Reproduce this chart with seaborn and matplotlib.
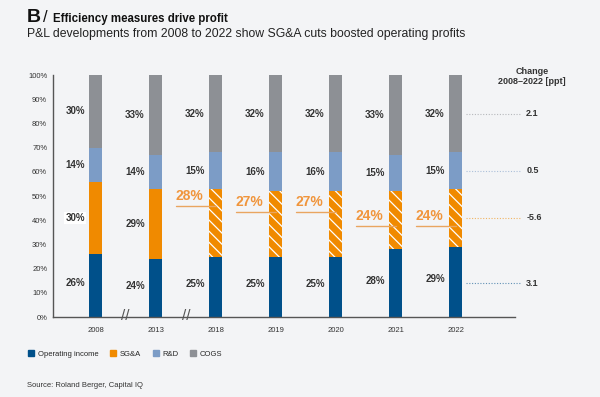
import numpy as np
import pandas as pd
import matplotlib
matplotlib.use("Agg")
import matplotlib.pyplot as plt
import seaborn as sns
from matplotlib.patches import Patch

# data
years = ["2008", "2013", "2018", "2019", "2020", "2021", "2022"]
op_income = [26, 24, 25, 25, 25, 28, 29]
sga = [30, 29, 28, 27, 27, 24, 24]
rnd = [14, 14, 15, 16, 16, 15, 15]
cogs = [30, 33, 32, 32, 32, 33, 32]
sga_line_y = [None, None, 46, 43.5, 43.5, 37.5, 37.5]
change_labels = ["2.1", "0.5", "-5.6", "3.1"]
change_y = [84, 60.5, 41, 14]

col_oi = "#00508A"
col_sga = "#F08A00"
col_rnd = "#7C9CC6"
col_cogs = "#8D9095"
col_lbl = "#F0953C"
bg = "#F3F4F6"

sns.set_style("white")
plt.rcParams["font.family"] = ["Liberation Sans", "DejaVu Sans"]
plt.rcParams["hatch.linewidth"] = 0.9

df = pd.DataFrame({"year": years, "oi": op_income, "sga": sga, "rnd": rnd, "cogs": cogs})
df["c1"] = df["oi"]
df["c2"] = df["c1"] + df["sga"]
df["c3"] = df["c2"] + df["rnd"]
df["c4"] = df["c3"] + df["cogs"]

fig = plt.figure(figsize=(6, 3.97), dpi=100, facecolor=bg)
ax = fig.add_axes([0.088, 0.2015, 0.77, 0.6095])
ax.set_facecolor(bg)

w = 13 / 60
for col, c in [("c4", col_cogs), ("c3", col_rnd), ("c2", col_sga), ("c1", col_oi)]:
    sns.barplot(data=df, x="year", y=col, color=c, width=w, saturation=1,
                linewidth=0, ax=ax)

# hatch SG&A from 2018 on (third container = SG&A cumulative)
sga_bars = ax.containers[2]
for i, p in enumerate(sga_bars.patches):
    if i >= 2:
        p.set_hatch("\\\\\\")
        p.set_edgecolor("white")
        p.set_linewidth(0)

# segment labels
lab_kw = dict(ha="center", va="center", fontsize=7, fontweight="bold", color="#333333")
for i in range(len(years)):
    xl = i - 0.35
    ax.text(xl, op_income[i] / 2 + 1, f"{op_income[i]}%", **lab_kw)
    ax.text(xl, df["c2"][i] + rnd[i] / 2, f"{rnd[i]}%", **lab_kw)
    ax.text(xl, df["c3"][i] + cogs[i] / 2, f"{cogs[i]}%", **lab_kw)
    if sga_line_y[i] is None:
        box = dict(boxstyle="square,pad=0.1", fc="white", ec="none") if i == 0 else None
        ax.text(xl, op_income[i] + sga[i] / 2, f"{sga[i]}%", bbox=box, **lab_kw)
    else:
        ly = sga_line_y[i]
        ax.plot([i - 0.67, i], [ly, ly], color="#E9A560", lw=1, zorder=5)
        ax.text(i - 0.67, ly + 1.2, f"{sga[i]}%", ha="left", va="bottom",
                fontsize=10, fontweight="bold", color=col_lbl)

# change column
ax.text(7.27, 99.5, "Change\n2008\u20132022 [ppt]", ha="center", va="center",
        fontsize=6.5, fontweight="bold", color="#333333", linespacing=1.1, clip_on=False)
line_cols = [col_cogs, col_rnd, col_sga, col_oi]
for lab, y, c in zip(change_labels, change_y, line_cols):
    ax.plot([6.17, 7.07], [y, y], color=c, lw=0.8, ls=(0, (1, 1.5)), alpha=0.6,
            clip_on=False)
    ax.text(7.17, y, lab, ha="left", va="center", fontsize=6.5, fontweight="bold",
            color="#333333", clip_on=False)

# axis breaks
for bx in [0.48, 1.5]:
    ax.text(bx, 0.5, "//", ha="center", va="center", fontsize=11, color="#555555",
            clip_on=False, zorder=6)

ax.set_xlim(-0.72, 6.98)
ax.set_ylim(0, 100)
ax.set_yticks(np.arange(0, 101, 10))
ax.set_yticklabels([f"{t}%" for t in range(0, 101, 10)])
ax.tick_params(axis="y", labelsize=5.5, length=2, pad=2, colors="#555555",
               labelcolor="#333333")
ax.tick_params(axis="x", labelsize=5.5, length=0, pad=7, labelcolor="#333333")
ax.set_xlabel("")
ax.set_ylabel("")
sns.despine(ax=ax)
for s in ["left", "bottom"]:
    ax.spines[s].set_color("#555555")
    ax.spines[s].set_linewidth(1)

# titles
fig.text(0.045, 0.955, "B", fontsize=14, fontweight="bold", color="#111111", va="center")
fig.text(0.072, 0.955, "/", fontsize=12, color="#111111", va="center")
fig.text(0.088, 0.953, "Efficiency measures drive profit", fontsize=8.3, fontweight="bold",
         color="#111111", va="center")
fig.text(0.045, 0.915, "P&L developments from 2008 to 2022 show SG&A cuts boosted operating profits",
         fontsize=8.8, color="#222222", va="center")

handles = [Patch(color=col_oi, label="Operating income"), Patch(color=col_sga, label="SG&A"),
           Patch(color=col_rnd, label="R&D"), Patch(color=col_cogs, label="COGS")]
fig.legend(handles=handles, loc="center left", bbox_to_anchor=(0.035, 0.108), ncol=4,
           frameon=False, fontsize=5.5, handlelength=0.8, handleheight=0.8,
           handletextpad=0.5, columnspacing=1.5)

fig.text(0.045, 0.028, "Source: Roland Berger, Capital IQ", fontsize=5.5, color="#333333",
         va="center")

fig.savefig("out.png", dpi=100, facecolor=bg)
